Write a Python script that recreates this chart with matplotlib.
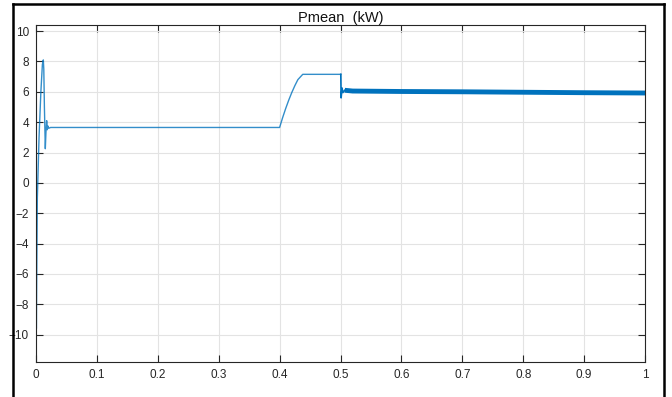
import numpy as np
import matplotlib
matplotlib.use("Agg")
import matplotlib.pyplot as plt
from matplotlib.lines import Line2D

# Transient + step segment (time in s, power in kW)
t_main = [0.0, 0.0006, 0.0012, 0.0022, 0.005, 0.008, 0.0105, 0.012, 0.0128, 0.0138, 0.0153,
          0.0163, 0.0175, 0.0185, 0.0195, 0.021, 0.024, 0.05, 0.1, 0.2, 0.3, 0.4,
          0.405, 0.41, 0.415, 0.42, 0.425, 0.43, 0.438, 0.45, 0.47, 0.49, 0.5005]
p_main = [0.0, -9.6, -6.0, -1.0, 3.0, 6.0, 7.8, 8.1, 7.5, 5.0, 2.25,
          3.3, 4.1, 3.5, 3.75, 3.6, 3.65, 3.65, 3.65, 3.65, 3.65, 3.65,
          4.3, 4.9, 5.45, 5.95, 6.4, 6.8, 7.15, 7.15, 7.15, 7.15, 7.15]

# Segment after 0.5 s: dense ripple band
t_rip = [0.5005, 0.501, 0.5025, 0.504, 0.507, 0.52, 0.6, 0.7, 0.8, 0.9, 1.0]
p_rip = [7.15, 5.6, 6.25, 5.95, 6.1, 6.05, 6.02, 6.0, 5.97, 5.94, 5.92]

xticks = [0, 0.1, 0.2, 0.3, 0.4, 0.5, 0.6, 0.7, 0.8, 0.9, 1]
xtick_labels = ["0", "0.1", "0.2", "0.3", "0.4", "0.5", "0.6", "0.7", "0.8", "0.9", "1"]
yticks = [-10, -8, -6, -4, -2, 0, 2, 4, 6, 8, 10]

plt.rcParams['font.family'] = ['Liberation Sans', 'DejaVu Sans']

fig = plt.figure(figsize=(6.72, 3.97), dpi=100)
ax = fig.add_axes([36/672, 1-362/397, (645-36)/672, (362-25)/397])

col = '#0072BD'
ax.plot(t_main, p_main, color=col, lw=1.0, alpha=0.8)
ax.plot(t_rip[:5], p_rip[:5], color=col, lw=1.2)
ax.plot(t_rip[4:], p_rip[4:], color=col, lw=3.5, solid_capstyle='butt')

ax.set_xlim(0, 1)
ax.set_ylim(-11.8, 10.4)
ax.set_xticks(xticks)
ax.set_xticklabels(xtick_labels)
ax.set_yticks(yticks)
ax.grid(True, color='#e3e3e3', lw=0.8)
ax.set_axisbelow(True)
ax.tick_params(direction='in', length=5, width=0.8, colors='#262626',
               labelsize=8.5, top=True, right=True, pad=5)
for s in ax.spines.values():
    s.set_color('#262626')
    s.set_linewidth(0.8)
ax.set_title("Pmean  (kW)", fontsize=10.5, color='#111111', pad=2)

# outer black frame
fig.add_artist(Line2D([13/672, 13/672], [0, 1-3.5/397], transform=fig.transFigure, color='black', lw=1.8))
fig.add_artist(Line2D([13/672, 664/672], [1-3.5/397, 1-3.5/397], transform=fig.transFigure, color='black', lw=1.8))
fig.add_artist(Line2D([664/672, 664/672], [0, 1-3.5/397], transform=fig.transFigure, color='black', lw=1.8))

fig.savefig("out.png", dpi=100)
